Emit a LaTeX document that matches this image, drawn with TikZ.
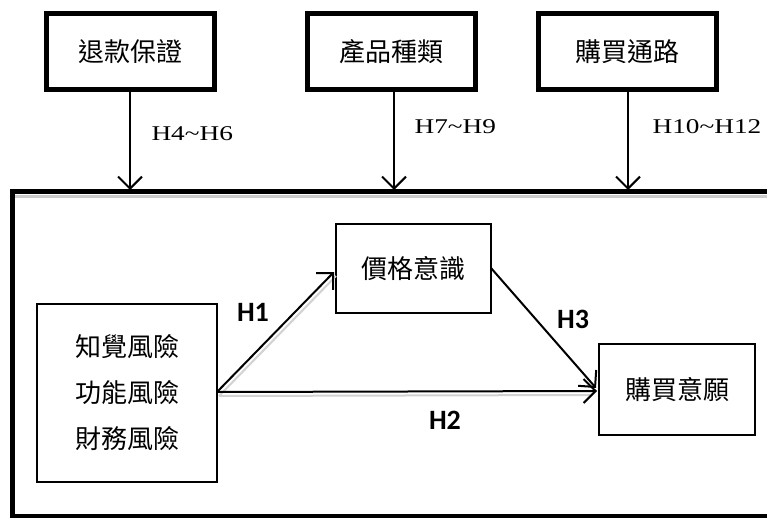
\documentclass[tikz,border=0pt]{standalone}
\usepackage{fontspec}
\setmainfont{Liberation Serif}
\newfontfamily\cjk{Noto Sans CJK TC}
\newfontfamily\hlab{Carlito}
\usetikzlibrary{arrows.meta}
\newcommand{\wideH}[1]{\scalebox{1.3}[1]{#1}}
\begin{document}
\begin{tikzpicture}[x=1pt,y=-1pt,
  topbox/.style={draw,line width=5pt,minimum width=168pt,minimum height=76pt,font=\cjk\fontsize{26}{30}\selectfont,inner sep=0pt},
  innerbox/.style={draw,line width=2pt,font=\cjk\fontsize{26}{30}\selectfont,inner sep=0pt},
  arr/.style={line width=2pt,-{Straight Barb[length=12pt,width=24pt,line width=2pt]}},
  hlabel/.style={font=\fontsize{21}{24}\selectfont},
  blabel/.style={font=\hlab\bfseries\fontsize{28}{32}\selectfont}]
\useasboundingbox (0,0) rectangle (767,518);
% frame
\draw[gray!40,line width=3pt] (15,197) -- (775,197);
\draw[line width=5pt] (775,192) -- (12,192) -- (12,516) -- (775,516);
% top boxes
\node[topbox] (m1) at (130,52) {退款保證};
\node[topbox] (m2) at (391,52) {產品種類};
\node[topbox,minimum width=178pt] (m3) at (627,52) {購買通路};
\coordinate (t1) at (130,190);
\coordinate (t2) at (394,190);
\coordinate (t3) at (628,190);
\draw[arr] (m1.south -| t1) -- (t1);
\draw[arr] (m2.south -| t2) -- (t2);
\draw[arr] (m3.south -| t3) -- (t3);
\node[hlabel,anchor=west] (l1) at (148,134) {\wideH{H4\textasciitilde H6}};
\node[hlabel,anchor=west] (l2) at (411,127) {\wideH{H7\textasciitilde H9}};
\node[hlabel,anchor=west] (l3) at (649,127) {\wideH{H10\textasciitilde H12}};
% inner boxes
\node[innerbox,minimum width=180pt,minimum height=178pt,align=center] (risk) at (127,393)
  {知覺風險\\[16pt]功能風險\\[16pt]財務風險};
\node[innerbox,minimum width=155pt,minimum height=89pt] (price) at (413.5,268.5) {價格意識};
\node[innerbox,minimum width=156pt,minimum height=91pt] (buy) at (677,389.5) {購買意願};
\coordinate (o) at (217,392);
\coordinate (ptip) at (334,272);
\coordinate (pout) at (491,268);
\coordinate (btip) at (597,391);
\coordinate (btip2) at (596,388);
\draw[gray!35,line width=2pt] (219,396) -- (336,276);
\draw[gray!35,line width=2pt] (219,396) -- (590,395);
\draw[arr] (o) -- (ptip);
\draw[arr] (o) -- (btip);
\draw[arr] (pout) -- (btip2);
\node[blabel] (h1) at (253,312) {H1};
\node[blabel] (h2) at (445,420) {H2};
\node[blabel] (h3) at (573,319) {H3};
\end{tikzpicture}
\end{document}
